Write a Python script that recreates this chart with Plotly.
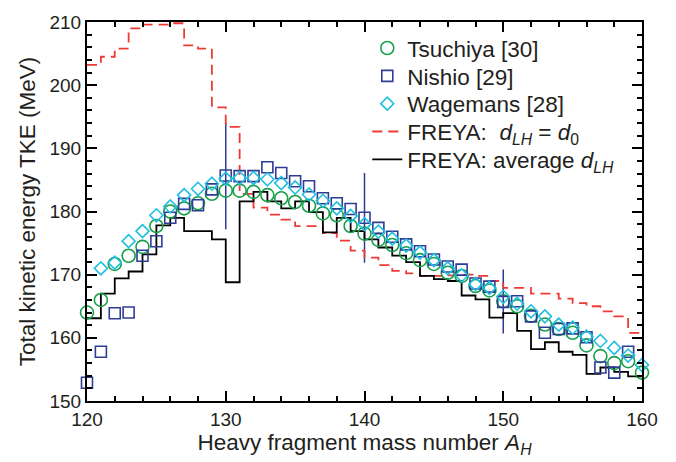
import plotly.graph_objects as go

# ---------------- data ----------------
A_tsuchiya = list(range(120, 161))
tke_tsuchiya = [164.0, 166.0, 171.7, 173.0, 174.4, 177.7, 180.0, 180.5, 181.3, 182.8,
                183.3, 183.3, 183.1, 182.6, 182.1, 181.5, 180.9, 179.7, 179.4, 177.7,
                176.5, 175.5, 174.7, 173.4, 172.3, 171.7, 170.3, 169.8, 168.2, 167.5,
                165.8, 165.0, 163.5, 162.1, 161.4, 160.8, 158.8, 157.1, 156.0, 156.3,
                154.5]

A_nishio = list(range(120, 160))
tke_nishio = [152.9, 157.8, 163.9, 164.0, 173.0, 175.3, 179.0, 181.2, 181.0, 183.5,
              185.7, 185.6, 185.6, 187.0, 186.1, 184.8, 184.0, 182.1, 181.3, 180.4,
              179.0, 177.4, 176.0, 174.8, 173.7, 172.4, 171.3, 170.8, 168.6, 168.1,
              165.7, 165.8, 163.4, 160.8, 161.4, 161.5, 160.1, 155.3, 154.5, 157.8]

A_wagemans = list(range(121, 161))
tke_wagemans = [171.0, 171.9, 175.3, 176.9, 179.4, 180.8, 182.6, 183.6, 184.4,
                185.2, 185.3, 185.3, 185.1, 184.5, 183.8, 182.7, 181.7, 180.5, 179.3,
                178.0, 176.8, 175.7, 174.6, 173.5, 172.3, 171.0, 169.9, 168.5, 167.9,
                166.5, 165.4, 164.2, 163.4, 162.1, 161.6, 160.2, 159.5, 158.4, 157.2,
                155.7]

# Nishio error bars (shown at selected masses)
A_err = [130, 140, 150]
err_low = [177.2, 171.9, 160.7]
err_high = [194.0, 186.1, 170.8]

# FREYA step histograms: bin lower edges 120..159, bin width 1
bins_freya = list(range(120, 160))
tke_freya_d0 = [203.2, 204.5, 205.8, 209.0, 209.6, 209.6, 209.8, 206.3, 205.8, 196.5,
                193.4, 182.8, 180.6, 179.5, 178.7, 177.7, 177.7, 176.6, 175.4, 173.8,
                172.7, 171.5, 170.6, 170.2, 169.8, 169.8, 169.9, 170.0, 169.8, 169.0,
                167.9, 167.9, 167.0, 167.0, 166.2, 165.5, 165.0, 164.2, 163.4, 160.8]
tke_freya_avg = [163.1, 167.0, 169.4, 170.5, 173.2, 177.8, 179.0, 176.9, 176.9, 175.6,
                 168.8, 181.6, 183.1, 181.6, 180.5, 181.6, 179.9, 176.7, 179.0, 176.9,
                 175.6, 174.3, 173.0, 172.0, 169.8, 169.3, 169.0, 166.7, 166.1, 163.2,
                 163.9, 161.1, 158.2, 159.3, 157.8, 157.3, 154.3, 155.3, 154.6, 153.9]

# ---------------- style ----------------
GREEN = "#17a04a"
NAVY = "#2f3c96"
CYAN = "#1fbfe0"
RED = "#ee3a35"
TXT = "#231f20"
FONT = "Liberation Sans, Arial, Helvetica, sans-serif"
LEG_SIZE = 22.5

# step traces need a closing point at the last bin's upper edge
step_x = bins_freya + [bins_freya[-1] + 1]
d0_y = tke_freya_d0 + [tke_freya_d0[-1]]
avg_y = tke_freya_avg + [tke_freya_avg[-1]]

err_mid = [(lo + hi) / 2 for lo, hi in zip(err_low, err_high)]
err_half = [(hi - lo) / 2 for lo, hi in zip(err_low, err_high)]

fig = go.Figure()

fig.add_trace(go.Scatter(
    x=A_err, y=err_mid, mode="markers", showlegend=False, hoverinfo="skip",
    marker=dict(size=1, color="rgba(0,0,0,0)"),
    error_y=dict(type="data", array=err_half, color=NAVY, thickness=1.5, width=0),
    cliponaxis=False,
))

fig.add_trace(go.Scatter(
    x=step_x, y=d0_y, mode="lines", line_shape="hv",
    line=dict(color=RED, width=1.8, dash="10px,6px"),
    name="FREYA:  <i>d<sub>LH</sub></i> = <i>d</i><sub>0</sub>", legend="legend4",
))
fig.add_trace(go.Scatter(
    x=step_x, y=avg_y, mode="lines", line_shape="hv",
    line=dict(color="black", width=1.8),
    name="FREYA: average <i>d<sub>LH</sub></i>", legend="legend5",
))

fig.add_trace(go.Scatter(
    x=A_tsuchiya, y=tke_tsuchiya, mode="markers", name="Tsuchiya [30]",
    marker=dict(symbol="circle-open", size=13, color=GREEN, line=dict(width=1.6)),
    cliponaxis=False, legend="legend",
))
fig.add_trace(go.Scatter(
    x=A_nishio, y=tke_nishio, mode="markers", name="Nishio [29]",
    marker=dict(symbol="square-open", size=11, color=NAVY, line=dict(width=1.6)),
    cliponaxis=False, legend="legend2",
))
fig.add_trace(go.Scatter(
    x=A_wagemans, y=tke_wagemans, mode="markers", name="Wagemans [28]",
    marker=dict(symbol="diamond-open", size=10, color=CYAN, line=dict(width=1.6)),
    cliponaxis=False, legend="legend3",
))

axis_common = dict(
    showline=True, linecolor="black", linewidth=2, mirror="allticks",
    ticks="inside", ticklen=10, tickwidth=1.5, tickcolor="black",
    showgrid=False, zeroline=False,
    tickfont=dict(family=FONT, size=19, color=TXT),
)

fig.update_xaxes(
    range=[120, 160], tick0=120, dtick=10,
    minor=dict(ticks="inside", ticklen=5, tickwidth=1.5, tickcolor="black", dtick=2, showgrid=False),
    title=dict(text="Heavy fragment mass number <i>A<sub>H</sub></i>",
               font=dict(family=FONT, size=22.5, color=TXT), standoff=4),
    **axis_common,
)
fig.update_yaxes(
    range=[150, 210], tick0=150, dtick=10,
    minor=dict(ticks="inside", ticklen=5, tickwidth=1.5, tickcolor="black", dtick=2, showgrid=False),
    title=dict(text="Total kinetic energy TKE (MeV)",
               font=dict(family=FONT, size=22.5, color=TXT), standoff=8),
    **axis_common,
)


def leg(ypix):
    return dict(
        x=0.505, y=(404 - ypix) / 388, xanchor="left", yanchor="middle",
        bgcolor="rgba(0,0,0,0)", borderwidth=0,
        font=dict(family=FONT, size=LEG_SIZE, color=TXT),
        itemwidth=30,
    )


fig.update_layout(
    width=676, height=462,
    margin=dict(l=87, r=34, t=16, b=58),
    plot_bgcolor="white", paper_bgcolor="white",
    font=dict(family=FONT, size=19, color=TXT),
    showlegend=True,
    legend=leg(43), legend2=leg(71.5), legend3=leg(100),
    legend4=leg(128.5), legend5=leg(157),
)

fig.write_html("out.html")
